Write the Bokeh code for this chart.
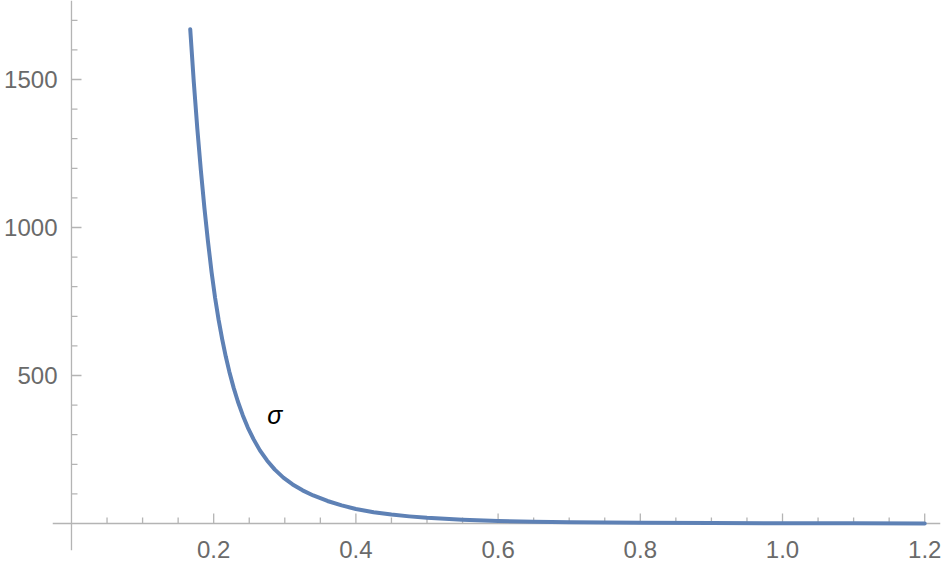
import math
from bokeh.plotting import figure
from bokeh.models import FixedTicker, NumeralTickFormatter, Span
from bokeh.core.properties import value
from bokeh.embed import file_html
from bokeh.resources import INLINE

# curve values
xs = [0.167, 0.172, 0.177, 0.182, 0.187, 0.192, 0.197, 0.202, 0.207, 0.212,
      0.217, 0.222, 0.228, 0.234, 0.241, 0.248, 0.256, 0.265, 0.275, 0.286,
      0.298, 0.311, 0.325, 0.340, 0.360, 0.380, 0.400, 0.425, 0.450, 0.475,
      0.500, 0.550, 0.600, 0.650, 0.700, 0.800, 0.900, 1.000, 1.100, 1.200]
ys = [1670, 1492, 1333, 1192, 1065, 952, 850, 762, 687, 622,
      564, 513, 459, 412, 365, 324, 285, 247, 213, 182,
      155, 132, 112, 94.6, 76, 61, 49, 38, 30, 24,
      19.3, 12.7, 8.6, 6.0, 4.2, 2.2, 1.2, 0.7, 0.4, 0.25]

x_major = [0.2, 0.4, 0.6, 0.8, 1.0, 1.2]
x_minor = [0.05, 0.10, 0.15, 0.25, 0.30, 0.35, 0.45, 0.50, 0.55, 0.65, 0.70,
           0.75, 0.85, 0.90, 0.95, 1.05, 1.10, 1.15]
y_major = [500, 1000, 1500]
y_minor = [100, 200, 300, 400, 600, 700, 800, 900, 1100, 1200, 1300, 1400,
           1600, 1700]

label_text = ["σ"]
label_x = [0.286]
label_y = [366]

x_lo, x_hi = -0.0267, 1.2222
y_lo, y_hi = -91.3, 1767

CURVE = "#5E81B5"
AXIS = "#b4b4b4"
TICKLAB = "#6a6a6a"
FONT = "Liberation Sans"

p = figure(width=946, height=568, x_range=(x_lo, x_hi), y_range=(y_lo, y_hi),
           output_backend="svg", toolbar_location=None,
           min_border_left=52, min_border_right=6, min_border_top=0,
           min_border_bottom=18)
p.outline_line_color = None
p.xgrid.visible = False
p.ygrid.visible = False
p.background_fill_color = "white"

# tick labels from the library's axes; axis lines and ticks drawn through the origin
p.xaxis.ticker = FixedTicker(ticks=x_major, minor_ticks=[])
p.yaxis.ticker = FixedTicker(ticks=y_major, minor_ticks=[])
p.xaxis.formatter = NumeralTickFormatter(format="0.0")
p.yaxis.formatter = NumeralTickFormatter(format="0")
for ax in (p.xaxis, p.yaxis):
    ax.axis_line_color = None
    ax.major_tick_line_color = None
    ax.minor_tick_line_color = None
    ax.major_tick_in = 0
    ax.major_tick_out = 0
    ax.minor_tick_in = 0
    ax.minor_tick_out = 0
    ax.major_label_text_font = FONT
    ax.major_label_text_font_size = "24px"
    ax.major_label_text_color = TICKLAB
p.xaxis.major_label_standoff = -10
p.yaxis.major_label_standoff = -5

p.add_layout(Span(location=0, dimension="width", line_color=AXIS,
                  line_width=1.3, level="underlay"))
p.add_layout(Span(location=0, dimension="height", line_color=AXIS,
                  line_width=1.3, level="underlay"))

p.ray(x=x_minor, y=[0] * len(x_minor), length=6, length_units="screen",
      angle=math.pi / 2, line_color=AXIS, line_width=1.3)
p.ray(x=x_major, y=[0] * len(x_major), length=10, length_units="screen",
      angle=math.pi / 2, line_color=AXIS, line_width=1.3)
p.ray(x=[0] * len(y_minor), y=y_minor, length=6, length_units="screen",
      angle=0, line_color=AXIS, line_width=1.3)
p.ray(x=[0] * len(y_major), y=y_major, length=10, length_units="screen",
      angle=0, line_color=AXIS, line_width=1.3)

p.line(xs, ys, line_width=4, line_color=CURVE, line_join="round", line_cap="round")

p.text(x=label_x, y=label_y, text=label_text, text_font=value(FONT),
       text_font_style="italic", text_font_size="25px", text_color="black",
       text_align="center", text_baseline="middle")

open("out.html", "w").write(file_html(p, INLINE))
